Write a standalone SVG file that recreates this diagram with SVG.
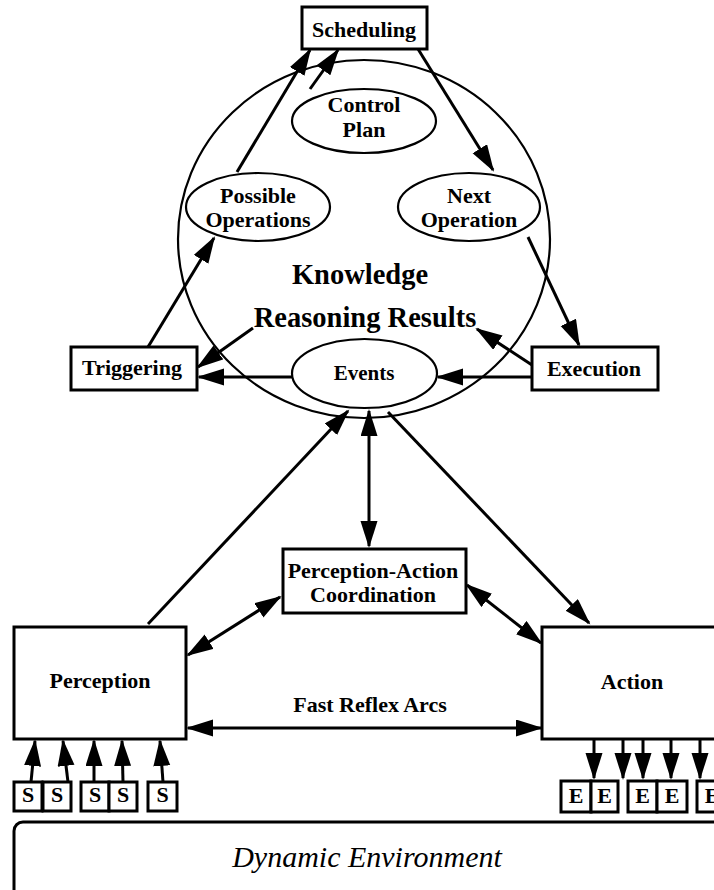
<svg xmlns="http://www.w3.org/2000/svg" width="714" height="890" viewBox="0 0 714 890">
<defs>
<marker id="ah" markerUnits="userSpaceOnUse" markerWidth="28" markerHeight="18" refX="25" refY="8.5" orient="auto-start-reverse">
<path d="M0,0 L27,8.5 L0,17 z" fill="#000"/>
</marker>
<style>
.t{font-family:"Liberation Serif","Times New Roman",serif;font-weight:bold;font-size:22px;text-anchor:middle;fill:#000}
.big{font-size:28.5px}
.box{fill:#fff;stroke:#000;stroke-width:3}
.ell{fill:#fff;stroke:#000;stroke-width:2.2}
.c line{stroke:#000;stroke-width:3;marker-end:url(#ah)}
.c line.bi{marker-start:url(#ah)}
</style>
</defs>
<rect width="714" height="890" fill="#fff"/>
<g id="knowledge">
<ellipse cx="364" cy="239" rx="186" ry="179" fill="none" stroke="#000" stroke-width="2.2"/>
<text class="t big" x="360" y="284">Knowledge</text>
<text class="t big" x="365" y="327">Reasoning Results</text>
</g>
<g id="scheduling"><rect class="box" x="302" y="7" width="125" height="42"/><text class="t" x="364" y="37">Scheduling</text></g>
<g id="control-plan"><ellipse class="ell" cx="364" cy="121" rx="72" ry="32"/><text class="t" x="364" y="112">Control</text><text class="t" x="364" y="137">Plan</text></g>
<g id="possible-operations"><ellipse class="ell" cx="258" cy="207" rx="72" ry="34"/><text class="t" x="258" y="203">Possible</text><text class="t" x="258" y="227">Operations</text></g>
<g id="next-operation"><ellipse class="ell" cx="469" cy="207" rx="71" ry="34"/><text class="t" x="469" y="203">Next</text><text class="t" x="469" y="227">Operation</text></g>
<g id="events"><ellipse class="ell" cx="364.5" cy="373.5" rx="72.5" ry="34.5"/><text class="t" x="364" y="380" style="font-size:21px">Events</text></g>
<g id="triggering"><rect class="box" x="71" y="347" width="126" height="43"/><text class="t" x="132" y="375">Triggering</text></g>
<g id="execution"><rect class="box" x="532" y="347" width="126" height="43"/><text class="t" x="594" y="376">Execution</text></g>
<g id="pac"><rect class="box" x="283" y="549" width="183" height="64"/><text class="t" x="373" y="578">Perception-Action</text><text class="t" x="373" y="602">Coordination</text></g>
<g id="perception"><rect class="box" x="14" y="627" width="172" height="112"/><text class="t" x="100" y="688">Perception</text></g>
<g id="action"><rect class="box" x="542" y="627" width="180" height="112"/><text class="t" x="632" y="689">Action</text></g>
<text class="t" x="370" y="712">Fast Reflex Arcs</text>
<g id="sensors">
<rect class="box" x="14" y="782" width="28" height="29"/><text class="t" x="28" y="802">S</text>
<rect class="box" x="43" y="782" width="28" height="29"/><text class="t" x="57" y="802">S</text>
<rect class="box" x="81" y="782" width="28" height="29"/><text class="t" x="95" y="802">S</text>
<rect class="box" x="109" y="782" width="28" height="29"/><text class="t" x="123" y="802">S</text>
<rect class="box" x="148" y="782" width="29" height="29"/><text class="t" x="162.5" y="802">S</text>
</g>
<g id="effectors">
<rect class="box" x="561" y="781" width="30" height="31"/><text class="t" x="576" y="803">E</text>
<rect class="box" x="591" y="781" width="27" height="31"/><text class="t" x="604.5" y="803">E</text>
<rect class="box" x="628" y="781" width="29" height="31"/><text class="t" x="642.5" y="803">E</text>
<rect class="box" x="657" y="781" width="30" height="31"/><text class="t" x="672" y="803">E</text>
<rect class="box" x="697" y="781" width="30" height="31"/><text class="t" x="712" y="803">E</text>
</g>
<g id="dynamic-environment">
<rect x="14" y="822" width="730" height="100" rx="9" fill="#fff" stroke="#000" stroke-width="3"/>
<text x="367" y="867" style="font-family:'Liberation Serif','Times New Roman',serif;font-style:italic;font-size:30px;text-anchor:middle">Dynamic Environment</text>
</g>
<g id="connectors" class="c">
<line x1="237" y1="172" x2="310" y2="50"/>
<line x1="310" y1="89" x2="338" y2="50"/>
<line x1="418" y1="49" x2="493" y2="170"/>
<line x1="528" y1="237" x2="579" y2="345"/>
<line x1="148" y1="347" x2="214" y2="238"/>
<line x1="253" y1="328" x2="198" y2="367"/>
<line x1="292" y1="377" x2="199" y2="377"/>
<line x1="532" y1="365" x2="477" y2="329"/>
<line x1="532" y1="377" x2="438" y2="377"/>
<line x1="148" y1="624" x2="348" y2="411"/>
<line class="bi" x1="369" y1="411" x2="369" y2="546"/>
<line x1="388" y1="412" x2="589" y2="623"/>
<line class="bi" x1="280" y1="597" x2="188" y2="655"/>
<line class="bi" x1="467" y1="585" x2="541" y2="643"/>
<line class="bi" x1="188" y1="728" x2="541" y2="728"/>
<line x1="31" y1="782" x2="35" y2="741"/>
<line x1="68" y1="782" x2="63" y2="741"/>
<line x1="94" y1="782" x2="94" y2="741"/>
<line x1="123" y1="782" x2="122" y2="741"/>
<line x1="163" y1="782" x2="160" y2="741"/>
<line x1="594" y1="740" x2="594" y2="778"/>
<line x1="623" y1="740" x2="623" y2="778"/>
<line x1="643" y1="740" x2="643" y2="778"/>
<line x1="671" y1="740" x2="671" y2="778"/>
<line x1="700" y1="740" x2="700" y2="778"/>
</g>
</svg>
